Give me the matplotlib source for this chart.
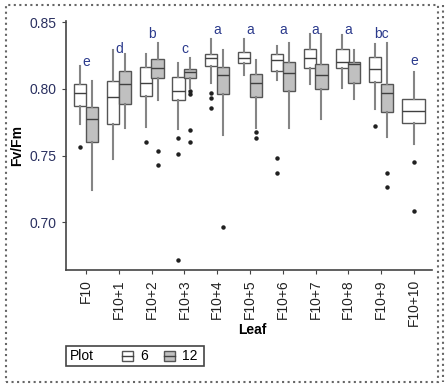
import numpy as np
import matplotlib.pyplot as plt
from matplotlib.patches import Rectangle

plt.rcParams['font.family'] = ['Liberation Sans', 'DejaVu Sans']

leaves = ['F10', 'F10+1', 'F10+2', 'F10+3', 'F10+4', 'F10+5',
          'F10+6', 'F10+7', 'F10+8', 'F10+9', 'F10+10']
letters = ['e', 'd', 'b', 'c', 'a', 'a', 'a', 'a', 'a', 'bc', 'e']
letter_y = [0.820, 0.830, 0.841, 0.830, 0.844, 0.844, 0.844, 0.844, 0.844, 0.841, 0.821]

# Plot 6 (white boxes), all 11 leaves
p6_whishi = [0.8172, 0.8289, 0.8264, 0.8197, 0.8378, 0.8378, 0.8326, 0.8416, 0.8408, 0.8338, 0.8129]
p6_q3 = [0.8040, 0.8060, 0.8164, 0.8090, 0.8259, 0.8276, 0.8259, 0.8301, 0.8301, 0.8239, 0.7923]
p6_med = [0.7973, 0.7943, 0.8047, 0.7988, 0.8230, 0.8234, 0.8217, 0.8230, 0.8202, 0.8150, 0.7836]
p6_q1 = [0.7873, 0.7741, 0.7948, 0.7920, 0.8170, 0.8197, 0.8134, 0.8155, 0.8155, 0.8052, 0.7744]
p6_whislo = [0.7737, 0.7473, 0.7716, 0.7700, 0.8047, 0.8105, 0.8065, 0.8035, 0.8010, 0.7849, 0.7587]
p6_fliers = [[0.7562], [], [0.7602], [0.7635, 0.7510, 0.6717],
             [0.7968, 0.7935, 0.7856], [], [0.7483, 0.7373], [], [],
             [0.7719], [0.7450, 0.7085]]

# Plot 12 (grey boxes), no data for F10+10
p12_whishi = [0.8060, 0.8264, 0.8346, 0.8229, 0.8296, 0.8214, 0.8346, 0.8413, 0.8289, 0.8346]
p12_q3 = [0.7866, 0.8134, 0.8226, 0.8152, 0.8167, 0.8114, 0.8202, 0.8184, 0.8202, 0.8040]
p12_med = [0.7776, 0.8037, 0.8157, 0.8127, 0.8105, 0.8045, 0.8122, 0.8105, 0.8189, 0.7973]
p12_q1 = [0.7602, 0.7886, 0.8080, 0.8080, 0.7965, 0.7940, 0.7985, 0.7998, 0.8043, 0.7829]
p12_whislo = [0.7239, 0.7707, 0.7918, 0.8005, 0.7657, 0.7710, 0.7707, 0.7774, 0.7923, 0.7642]
p12_fliers = [[], [], [0.7532, 0.7426], [0.7985, 0.7965, 0.7690, 0.7600],
              [0.6963], [0.7680, 0.7632], [], [], [], [0.7371, 0.7264]]


def make_stats(whislo, q1, med, q3, whishi, fliers):
    return [dict(whislo=a, q1=b, med=c, q3=d, whishi=e, fliers=f)
            for a, b, c, d, e, f in zip(whislo, q1, med, q3, whishi, fliers)]


stats6 = make_stats(p6_whislo, p6_q1, p6_med, p6_q3, p6_whishi, p6_fliers)
stats12 = make_stats(p12_whislo, p12_q1, p12_med, p12_q3, p12_whishi, p12_fliers)

W, H = 445, 389
fig = plt.figure(figsize=(W / 100, H / 100), dpi=100)
ax = fig.add_axes([66 / W, 1 - 270 / H, (432 - 66) / W, (270 - 21) / H])

x = np.arange(len(leaves))
n12 = len(stats12)
pos6 = [i - 0.18 if i < n12 else i for i in x]
wid6 = [0.37 if i < n12 else 0.70 for i in x]

common = dict(showcaps=False, patch_artist=True, manage_ticks=False,
              whiskerprops=dict(color='#858585', lw=1.5),
              medianprops=dict(color='#404040', lw=1.0),
              flierprops=dict(marker='o', markersize=2.2, markerfacecolor='#202020',
                              markeredgecolor='#202020', linestyle='none'))

ax.bxp(stats6, positions=pos6, widths=wid6,
       boxprops=dict(facecolor='white', edgecolor='#555555', lw=1.0), **common)
ax.bxp(stats12, positions=x[:n12] + 0.18, widths=0.37,
       boxprops=dict(facecolor='#c0c0c0', edgecolor='#555555', lw=1.0), **common)

for xi, lt, ly in zip(x, letters, letter_y):
    ax.text(xi, ly, lt, ha='center', va='center', fontsize=10, color='#2b3a8c')

ax.set_xlim(-0.61, 10.55)
ax.set_ylim(0.6642, 0.851)
ax.set_yticks([0.70, 0.75, 0.80, 0.85])
ax.set_yticklabels(['0.70', '0.75', '0.80', '0.85'], color='#2a3060')
ax.set_xticks(x)
ax.set_xticklabels(leaves, rotation=90, color='#222222')
ax.tick_params(labelsize=10, length=3, color='#444444')
for s in ['top', 'right']:
    ax.spines[s].set_visible(False)
for s in ['left', 'bottom']:
    ax.spines[s].set_color('#444444')
    ax.spines[s].set_linewidth(1.2)

fig.text(252 / W, 1 - 330 / H, 'Leaf', ha='center', va='center',
         fontsize=10, fontweight='bold')
fig.text(17 / W, 1 - 145 / H, 'Fv/Fm', ha='center', va='center',
         rotation=90, fontsize=10, fontweight='bold')


def px_rect(x0, y0, x1, y1, **kw):
    r = Rectangle((x0 / W, 1 - y1 / H), (x1 - x0) / W, (y1 - y0) / H,
                  transform=fig.transFigure, **kw)
    fig.add_artist(r)


# legend box
px_rect(66, 346, 204, 366, fill=False, edgecolor='#444444', lw=1.2)
fig.text(70 / W, 1 - 356 / H, 'Plot', ha='left', va='center', fontsize=10)
for x0, fc in [(122, 'white'), (164, '#c0c0c0')]:
    px_rect(x0, 351, x0 + 11, 361, facecolor=fc, edgecolor='#555555', lw=1.0)
    fig.add_artist(plt.Line2D([x0 / W, (x0 + 11) / W], [1 - 356 / H, 1 - 356 / H],
                              transform=fig.transFigure, color='#404040', lw=1.0))
fig.text(140 / W, 1 - 356 / H, '6', ha='left', va='center', fontsize=10)
fig.text(182 / W, 1 - 356 / H, '12', ha='left', va='center', fontsize=10)

# outer frame
px_rect(6, 5, 438, 382, fill=False, edgecolor='#666666', lw=1.5, linestyle=':')
fig.add_artist(plt.Line2D([443 / W, 443 / W], [1 - 5 / H, 1 - 382 / H],
                          transform=fig.transFigure, color='#666666', lw=1.5, linestyle=':'))

fig.savefig('out.png', dpi=100)
